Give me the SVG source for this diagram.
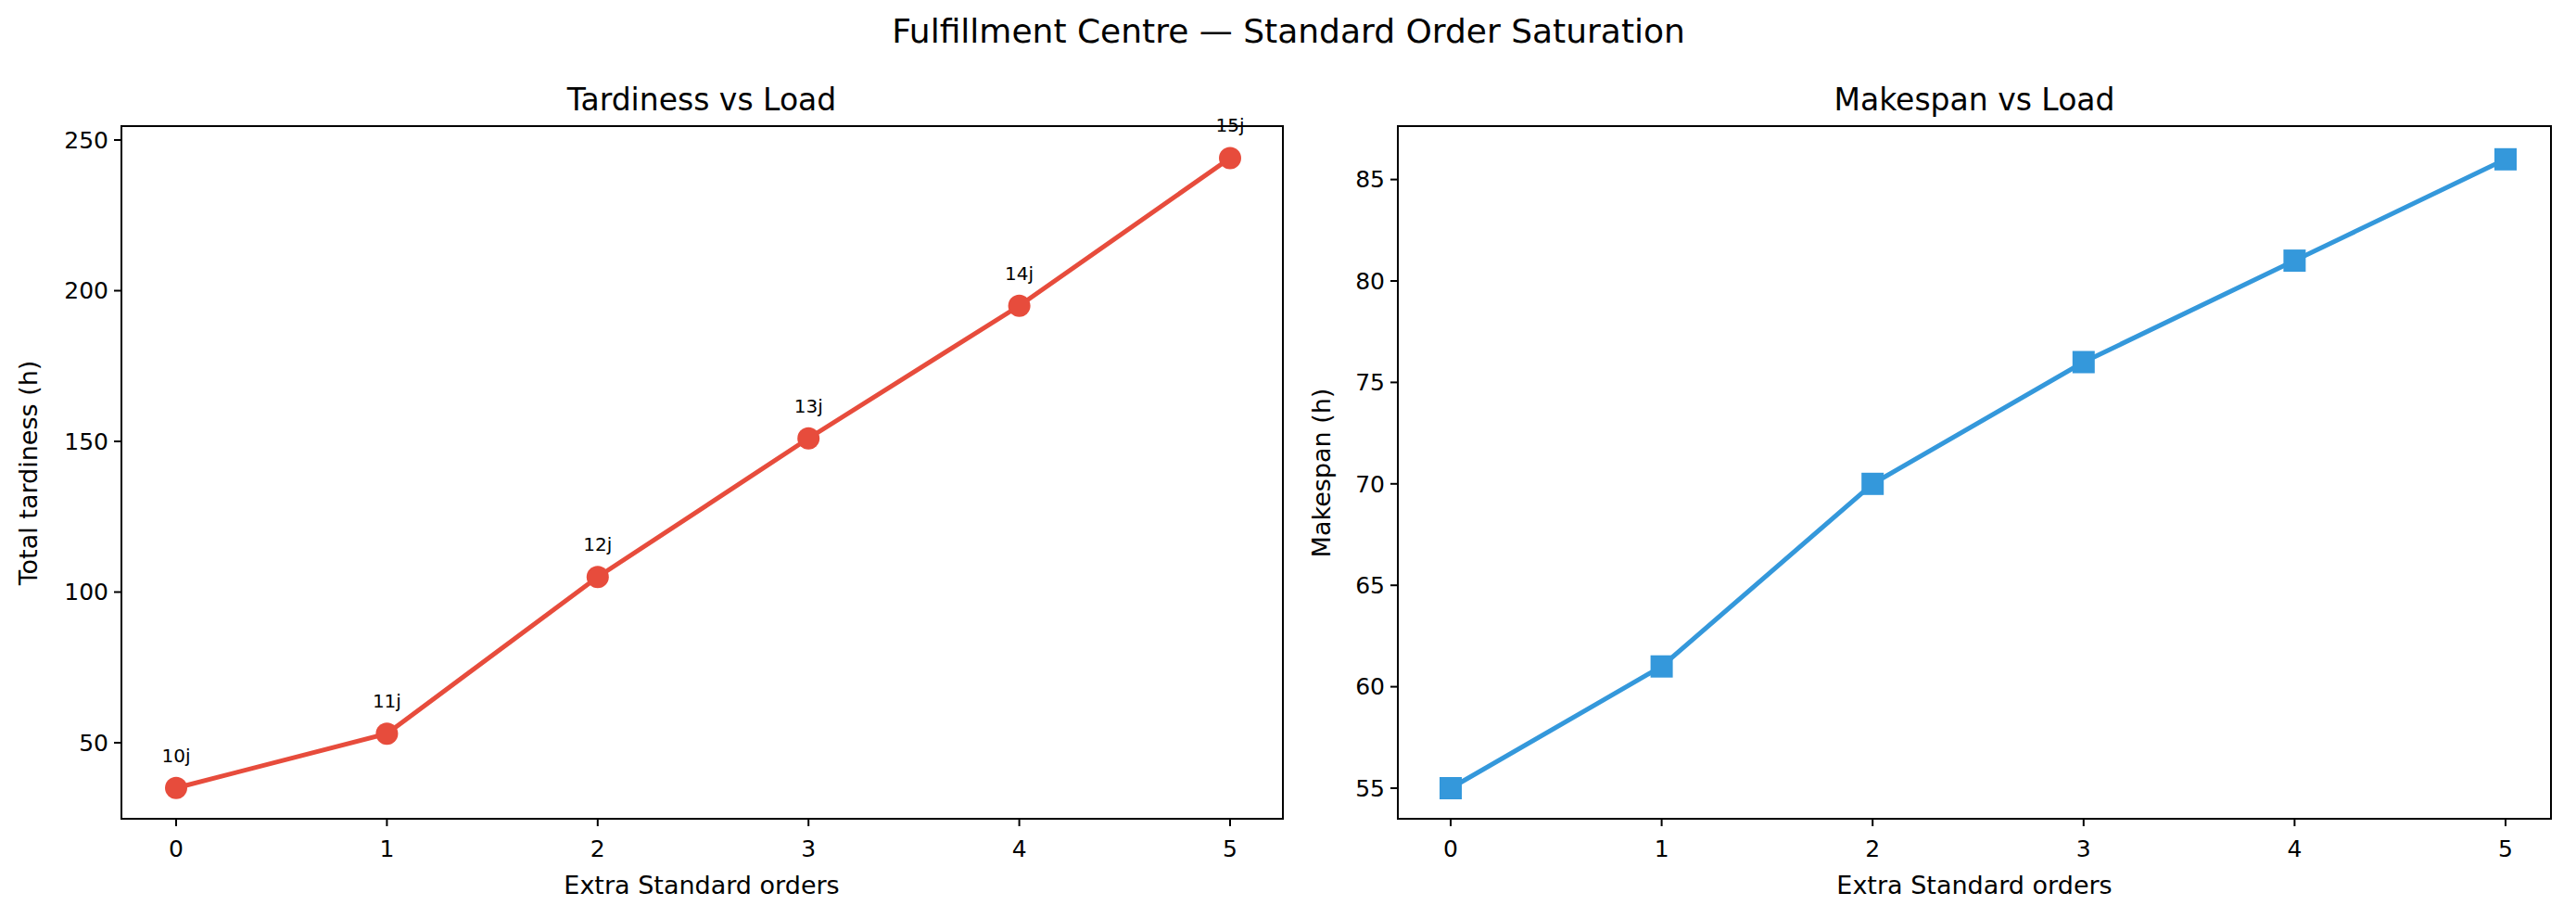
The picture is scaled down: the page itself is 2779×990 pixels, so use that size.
<svg xmlns="http://www.w3.org/2000/svg" width="2779" height="990" viewBox="0 0 2779 990">
<style>
text{font-family:"DejaVu Sans",sans-serif;fill:#000}
.tk{font-size:25px}
.lb{font-size:27px}
.ti{font-size:33px}
.an{font-size:20px}
.ax{fill:none;stroke:#000;stroke-width:2}
.t{stroke:#000;stroke-width:2}
</style>
<rect width="2779" height="990" fill="#fff"/>
<text x="1390" y="46" font-size="36" text-anchor="middle">Fulfillment Centre — Standard Order Saturation</text>
<g id="left">
<text class="ti" x="757" y="119" text-anchor="middle">Tardiness vs Load</text>
<g class="t">
<line x1="190" y1="883" x2="190" y2="891"/><line x1="417.4" y1="883" x2="417.4" y2="891"/><line x1="644.8" y1="883" x2="644.8" y2="891"/><line x1="872.2" y1="883" x2="872.2" y2="891"/><line x1="1099.6" y1="883" x2="1099.6" y2="891"/><line x1="1327" y1="883" x2="1327" y2="891"/>
<line x1="123" y1="801" x2="131" y2="801"/><line x1="123" y1="638.5" x2="131" y2="638.5"/><line x1="123" y1="476" x2="131" y2="476"/><line x1="123" y1="313.5" x2="131" y2="313.5"/><line x1="123" y1="151" x2="131" y2="151"/>
</g>
<g class="tk" text-anchor="middle">
<text x="190" y="924">0</text><text x="417.4" y="924">1</text><text x="644.8" y="924">2</text><text x="872.2" y="924">3</text><text x="1099.6" y="924">4</text><text x="1327" y="924">5</text>
</g>
<g class="tk" text-anchor="end">
<text x="117" y="810">50</text><text x="117" y="647">100</text><text x="117" y="485">150</text><text x="117" y="322">200</text><text x="117" y="160">250</text>
</g>
<text class="lb" x="757" y="964" text-anchor="middle">Extra Standard orders</text>
<text class="lb" transform="translate(40,510) rotate(-90)" text-anchor="middle">Total tardiness (h)</text>
<polyline fill="none" stroke="#e74c3c" stroke-width="5" points="190,849.75 417.4,791.25 644.8,622.25 872.2,472.75 1099.6,329.75 1327,170.5"/>
<g fill="#e74c3c">
<circle cx="190" cy="849.75" r="12"/><circle cx="417.4" cy="791.25" r="12"/><circle cx="644.8" cy="622.25" r="12"/><circle cx="872.2" cy="472.75" r="12"/><circle cx="1099.6" cy="329.75" r="12"/><circle cx="1327" cy="170.5" r="12"/>
</g>
<g class="an" text-anchor="middle">
<text x="190" y="822">10j</text><text x="417.4" y="763">11j</text><text x="644.8" y="594">12j</text><text x="872.2" y="445">13j</text><text x="1099.6" y="302">14j</text><text x="1327" y="142">15j</text>
</g>
<rect class="ax" x="131" y="136" width="1253" height="747"/>
</g>
<g id="right">
<text class="ti" x="2130" y="119" text-anchor="middle">Makespan vs Load</text>
<g class="t">
<line x1="1565" y1="883" x2="1565" y2="891"/><line x1="1792.6" y1="883" x2="1792.6" y2="891"/><line x1="2020.2" y1="883" x2="2020.2" y2="891"/><line x1="2247.8" y1="883" x2="2247.8" y2="891"/><line x1="2475.4" y1="883" x2="2475.4" y2="891"/><line x1="2703" y1="883" x2="2703" y2="891"/>
<line x1="1500" y1="850" x2="1508" y2="850"/><line x1="1500" y1="740.6" x2="1508" y2="740.6"/><line x1="1500" y1="631.2" x2="1508" y2="631.2"/><line x1="1500" y1="521.8" x2="1508" y2="521.8"/><line x1="1500" y1="412.4" x2="1508" y2="412.4"/><line x1="1500" y1="303" x2="1508" y2="303"/><line x1="1500" y1="193.6" x2="1508" y2="193.6"/>
</g>
<g class="tk" text-anchor="middle">
<text x="1565" y="924">0</text><text x="1792.6" y="924">1</text><text x="2020.2" y="924">2</text><text x="2247.8" y="924">3</text><text x="2475.4" y="924">4</text><text x="2703" y="924">5</text>
</g>
<g class="tk" text-anchor="end">
<text x="1494" y="859">55</text><text x="1494" y="749">60</text><text x="1494" y="640">65</text><text x="1494" y="531">70</text><text x="1494" y="421">75</text><text x="1494" y="312">80</text><text x="1494" y="202">85</text>
</g>
<text class="lb" x="2130" y="964" text-anchor="middle">Extra Standard orders</text>
<text class="lb" transform="translate(1435,510) rotate(-90)" text-anchor="middle">Makespan (h)</text>
<polyline fill="none" stroke="#3498db" stroke-width="5" points="1565,850 1792.6,718.7 2020.2,521.8 2247.8,390.5 2475.4,281.1 2703,171.8"/>
<g fill="#3498db">
<rect x="1553" y="838" width="24" height="24"/><rect x="1780.6" y="706.7" width="24" height="24"/><rect x="2008.2" y="509.8" width="24" height="24"/><rect x="2235.8" y="378.5" width="24" height="24"/><rect x="2463.4" y="269.1" width="24" height="24"/><rect x="2691" y="159.8" width="24" height="24"/>
</g>
<rect class="ax" x="1508" y="136" width="1244" height="747"/>
</g>
</svg>
